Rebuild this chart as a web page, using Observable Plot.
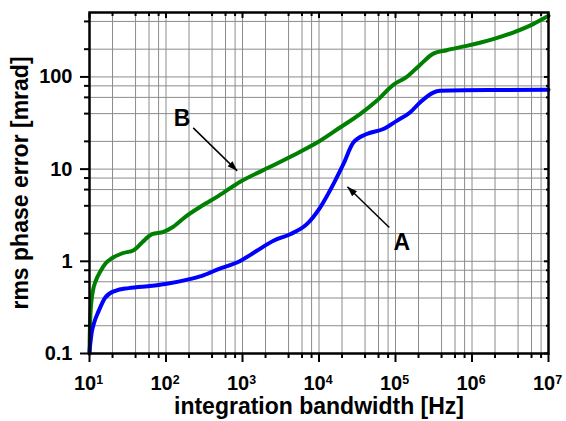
<!DOCTYPE html>
<html><head><meta charset="utf-8">
<script src="https://cdn.jsdelivr.net/npm/d3@7"></script>
<script src="https://cdn.jsdelivr.net/npm/@observablehq/plot@0.6"></script>
<style>body{margin:0;background:#fff}</style>
</head><body><div id="chart"></div>
<script>
// Curve B (green)
const freqB = [10, 10.05, 10.15, 10.3, 10.6, 11.2, 11.94, 13.9, 16.1, 19.7, 26.7, 37.8, 48.6, 65.7, 93, 120, 179, 295, 486, 933, 2540, 5670, 10330, 18850, 34400, 56800, 93600, 140000, 209000, 312000, 466000, 851000, 1.89e6, 3.45e6, 6.3e6, 1e7];
const phaseB = [0.1, 0.14, 0.2, 0.27, 0.37, 0.5, 0.6, 0.78, 0.94, 1.08, 1.22, 1.32, 1.6, 1.97, 2.09, 2.33, 3.04, 4.0, 5.13, 7.28, 11.0, 15.4, 20.3, 28.3, 39.5, 55.1, 82.1, 100, 135, 179, 195, 217, 257, 303, 374, 460];
// Curve A (blue)
const freqA = [10, 10.1, 10.27, 10.7, 11.34, 13.2, 16.1, 21.8, 32.5, 65.7, 97.9, 179, 295, 486, 933, 1540, 2540, 4200, 6930, 10330, 15420, 20820, 28100, 42100, 69300, 103700, 154600, 208800, 311600, 381000, 768000, 1e7];
const phaseA = [0.1, 0.115, 0.13, 0.17, 0.208, 0.29, 0.405, 0.479, 0.512, 0.542, 0.566, 0.625, 0.696, 0.823, 1.01, 1.30, 1.67, 1.97, 2.53, 3.83, 6.88, 11.3, 19.4, 24.0, 27.2, 33.4, 41.1, 52.8, 67.7, 70.7, 71.9, 72.4];

const xMajorTicks = [1e1, 1e2, 1e3, 1e4, 1e5, 1e6, 1e7];
const xTickBase = "10";
const xTickExponents = ["1", "2", "3", "4", "5", "6", "7"];
const xMinorTicks = [20, 40, 60, 80, 200, 400, 600, 800, 2e3, 4e3, 6e3, 8e3, 2e4, 4e4, 6e4, 8e4, 2e5, 4e5, 6e5, 8e5, 2e6, 4e6, 6e6, 8e6];
const yMajorTicks = [0.1, 1, 10, 100];
const yTickLabels = ["0.1", "1", "10", "100"];
const yMinorTicks = [0.2, 0.4, 0.6, 0.8, 2, 4, 6, 8, 20, 40, 60, 80, 200, 400];

const labelText = ["A", "B"];
const labelX = [120500, 162];
const labelY = [1.6, 35.7];
const arrowX1 = [83000, 227];
const arrowY1 = [2.33, 28.0];
const arrowX2 = [23500, 853];
const arrowY2 = [6.43, 9.58];

const dataB = freqB.map((f, i) => ({f, v: phaseB[i]}));
const dataA = freqA.map((f, i) => ({f, v: phaseA[i]}));
const labels = labelText.map((t, i) => ({t, x: labelX[i], y: labelY[i]}));
const arrows = arrowX1.map((x1, i) => ({x1, y1: arrowY1[i], x2: arrowX2[i], y2: arrowY2[i]}));
const xTicks = xMajorTicks.map((v, i) => ({v, t: xTickBase + "^" + xTickExponents[i]}));
const yTicks = yMajorTicks.map((v, i) => ({v, t: yTickLabels[i]}));

const font = "'Liberation Sans', Arial, sans-serif";
const gridStyle = {stroke: "#8c8c8c", strokeOpacity: 1, strokeWidth: 1};
const noText = {tickFormat: () => "", label: null, strokeWidth: 2};

const chart = Plot.plot({
  width: 566, height: 421,
  marginLeft: 89, marginRight: 18, marginTop: 12, marginBottom: 68,
  x: {type: "log", domain: [10, 1e7]},
  y: {type: "log", domain: [0.1, 500]},
  style: {fontFamily: font, fontWeight: "bold", color: "black", background: "white"},
  marks: [
    Plot.gridX([...xMajorTicks, ...xMinorTicks], gridStyle),
    Plot.gridY([...yMajorTicks, ...yMinorTicks], gridStyle),
    Plot.line(dataB, {x: "f", y: "v", stroke: "#008000", strokeWidth: 4, curve: "monotone-x"}),
    Plot.line(dataA, {x: "f", y: "v", stroke: "#0000ff", strokeWidth: 4, curve: "monotone-x"}),
    Plot.frame({stroke: "black", strokeWidth: 2.5}),
    Plot.axisX({ticks: xMajorTicks, anchor: "bottom", tickSize: 9, ...noText}),
    Plot.axisX({ticks: xMinorTicks, anchor: "bottom", tickSize: 5, ...noText}),
    Plot.axisX({ticks: xMajorTicks, anchor: "top", tickSize: -5, ...noText}),
    Plot.axisX({ticks: xMinorTicks, anchor: "top", tickSize: -3, ...noText}),
    Plot.axisY({ticks: yMajorTicks, anchor: "left", tickSize: 9, ...noText}),
    Plot.axisY({ticks: yMinorTicks, anchor: "left", tickSize: 5, ...noText}),
    Plot.axisY({ticks: yMajorTicks, anchor: "right", tickSize: -5, ...noText}),
    Plot.axisY({ticks: yMinorTicks, anchor: "right", tickSize: -3, ...noText}),
    Plot.text(xTicks, {x: "v", text: "t", frameAnchor: "bottom", dy: 22, dx: -1, lineAnchor: "top", textAnchor: "middle", fontSize: 20, fontWeight: "bold", fill: "black"}),
    Plot.text(yTicks, {y: "v", text: "t", frameAnchor: "left", dx: -17, lineAnchor: "middle", textAnchor: "end", fontSize: 20, fontWeight: "bold", fill: "black"}),
    Plot.link(arrows, {x1: "x1", y1: "y1", x2: "x2", y2: "y2", stroke: "black", strokeWidth: 1.5, markerEnd: "arrow"}),
    Plot.text(labels, {x: "x", y: "y", text: "t", fontSize: 23, fontWeight: "bold", fill: "black"}),
    Plot.text(["integration bandwidth [Hz]"], {frameAnchor: "bottom", dy: 53, text: d => d, fontSize: 23, fontWeight: "bold", lineAnchor: "middle", textAnchor: "middle"}),
    Plot.text(["rms phase error [mrad]"], {frameAnchor: "left", dx: -69, rotate: -90, text: d => d, fontSize: 23, fontWeight: "bold", lineAnchor: "middle", textAnchor: "middle"})
  ]
});

// turn "10^n" into 10 with a superscript exponent
d3.select(chart).selectAll("text").each(function () {
  const s = this.textContent;
  const m = /^(\d+)\^(\d+)$/.exec(s);
  if (!m) return;
  const t = d3.select(this);
  t.text(m[1]);
  t.append("tspan").attr("dy", "-0.5em").attr("font-size", "0.62em").text(m[2]);
});

d3.select(chart).selectAll("marker")
  .attr("viewBox", "-10 -5 10 10")
  .attr("markerUnits", "userSpaceOnUse")
  .attr("markerWidth", 10).attr("markerHeight", 10)
  .attr("fill", "black").attr("stroke", "none")
  .select("path").attr("d", "M-10,-3.5L0,0L-10,3.5Z");

document.getElementById("chart").appendChild(chart);
</script>
</body></html>
